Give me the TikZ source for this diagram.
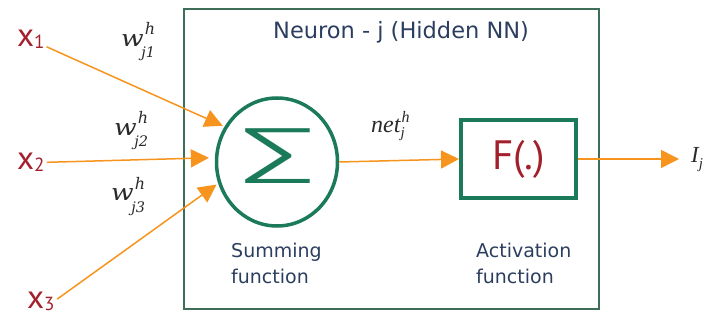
\documentclass[tikz,border=0pt]{standalone}
\usepackage{graphicx}
\usepackage{fontspec}
\usetikzlibrary{shapes.geometric,arrows.meta}
\setmainfont{Liberation Serif}
\newfontfamily\labelfont{DejaVu Sans}
\newfontfamily\inputfont{PT Sans}
\newfontfamily\sigmafont{Fira Sans Light}
\newfontfamily\weightfont{DejaVu Serif}
\definecolor{flowor}{HTML}{F7941D}
\definecolor{unitgreen}{HTML}{1B7A5A}
\definecolor{framegreen}{HTML}{3E6E58}
\definecolor{navytext}{HTML}{2C3E5F}
\definecolor{inputred}{HTML}{A21F2B}
\definecolor{weightgray}{HTML}{2A2A2A}
\tikzset{
  flow/.style={draw=flowor, line width=1.5pt,
    -{Triangle[length=18pt,width=18pt]}, fill=flowor},
  inputlbl/.style={anchor=base west, inner sep=0pt, text=inputred,
    font=\inputfont\fontsize{33}{33}\selectfont},
  weightlbl/.style={anchor=base west, inner sep=0pt, text=weightgray,
    font=\weightfont\itshape\fontsize{23}{23}\selectfont},
  serifit/.style={anchor=base west, inner sep=0pt, text=weightgray,
    font=\itshape\fontsize{24}{24}\selectfont},
  caption/.style={anchor=base west, inner sep=0pt, align=left, text=navytext,
    font=\labelfont\fontsize{19}{26}\selectfont},
}
% input subscripts sit almost on the baseline
\newcommand{\subdig}[1]{{\fontsize{19}{19}\selectfont\raisebox{-2pt}{#1}}}
% weight w^h_{j#1}: superscript h above, subscript j#1 below
\newcommand{\wlabel}[1]{\scalebox{1.15}[1]{w}\makebox[0pt][l]{\hspace{1pt}\raisebox{12pt}{\fontsize{16}{16}\selectfont h}}\hspace{-2.5pt}\raisebox{-11pt}{\fontsize{14.5}{14.5}\selectfont j#1}}
\begin{document}
\begin{tikzpicture}[x=1pt,y=-1pt]
\useasboundingbox (0,0) rectangle (712,331);

% hidden neuron frame
\node[draw=framegreen, line width=2pt, inner sep=0pt,
      minimum width=415pt, minimum height=300pt] (neuron) at (391.5,159) {};
\node[anchor=base west, inner sep=0pt, text=navytext,
      font=\labelfont\fontsize{22.5}{24}\selectfont] (title) at (273,39)
      {Neuron - j (Hidden NN)};

% summing unit
\node[ellipse, draw=unitgreen, line width=3.5pt, inner sep=0pt,
      minimum width=121pt, minimum height=128pt] (sum) at (277,162) {};
\node[text=unitgreen, font=\sigmafont\fontsize{80}{80}\selectfont,
      inner sep=0pt, xscale=2.0] (sigma) at (278.5,156) {Σ};
\node[caption] (sumcap) at (231,283) {Summing\\function};

% activation unit
\node[draw=unitgreen, line width=4pt, inner sep=0pt,
      minimum width=115pt, minimum height=78pt, text=inputred,
      font=\inputfont\fontsize{41}{41}\selectfont] (act) at (518.5,159) {F(.)};
\node[caption] (actcap) at (476,283) {Activation\\function};

% inputs
\node[inputlbl] (x1) at (17,47) {x\subdig{1}};
\node[inputlbl] (x2) at (17,170) {x\subdig{2}};
\node[inputlbl] (x3) at (27,308) {x\subdig{3}};

% weights
\node[weightlbl] (w1) at (121,47) {\wlabel{1}};
\node[weightlbl] (w2) at (114,136) {\wlabel{2}};
\node[weightlbl] (w3) at (111,201) {\wlabel{3}};

% net input and output
\node[serifit] (net) at (371,133)
  {net\makebox[0pt][l]{\hspace{1pt}\raisebox{10pt}{\fontsize{16}{16}\selectfont h}}\raisebox{-5pt}{\fontsize{15}{15}\selectfont j}};
\node[serifit, font=\itshape\fontsize{23}{23}\selectfont] (out) at (691,163)
  {I\raisebox{-6pt}{\fontsize{15}{15}\selectfont j}};

% connectors
\draw[flow, shorten <=2pt, shorten >=2pt] (x1) -- (sum.146);
\draw[flow, shorten <=2pt, shorten >=6pt] (x2) -- (sum.176);
\draw[flow, shorten <=3pt, shorten >=2pt] (x3.east) -- (sum.200);
\draw[flow] (sum.east) -- (act.west);
\draw[flow, shorten >=12pt] (act.east) -- (out.west |- act.east);
\end{tikzpicture}
\end{document}
